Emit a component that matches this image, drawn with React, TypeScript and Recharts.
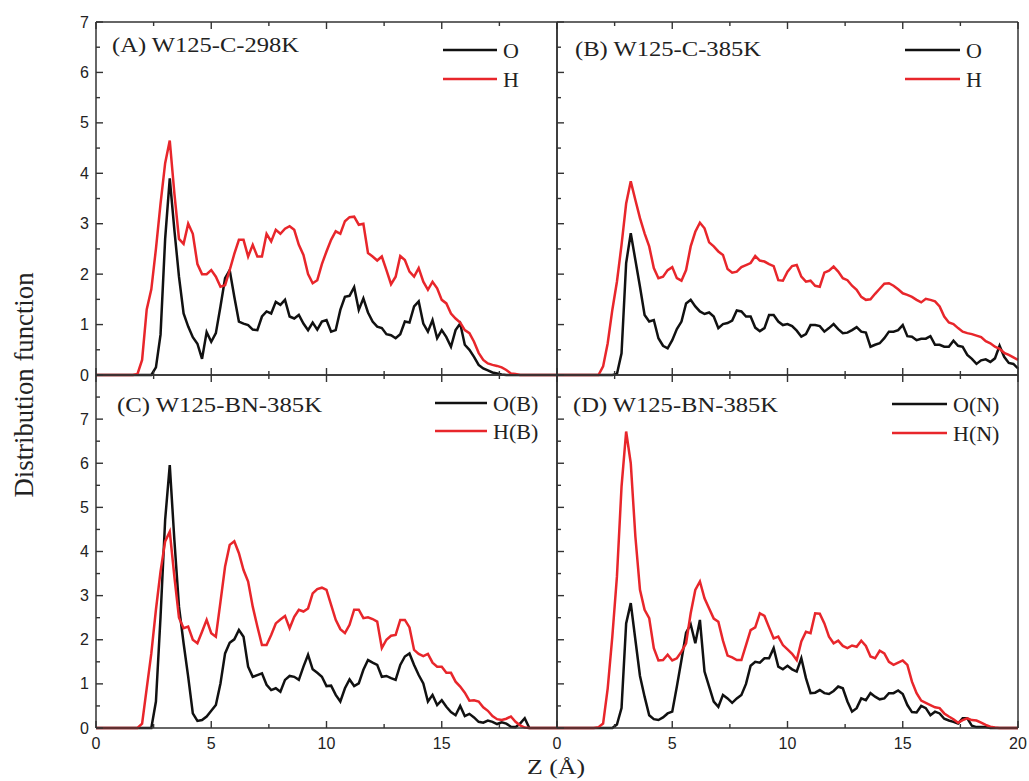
import { Line, LineChart, XAxis, YAxis } from 'recharts';

// z grid (Å)
const Z = [
  0, 0.2, 0.4, 0.6, 0.8, 1, 1.2, 1.4, 1.6, 1.8,
  2, 2.2, 2.4, 2.6, 2.8, 3, 3.2, 3.4, 3.6, 3.8,
  4, 4.2, 4.4, 4.6, 4.8, 5, 5.2, 5.4, 5.6, 5.8,
  6, 6.2, 6.4, 6.6, 6.8, 7, 7.2, 7.4, 7.6, 7.8,
  8, 8.2, 8.4, 8.6, 8.8, 9, 9.2, 9.4, 9.6, 9.8,
  10, 10.2, 10.4, 10.6, 10.8, 11, 11.2, 11.4, 11.6, 11.8,
  12, 12.2, 12.4, 12.6, 12.8, 13, 13.2, 13.4, 13.6, 13.8,
  14, 14.2, 14.4, 14.6, 14.8, 15, 15.2, 15.4, 15.6, 15.8,
  16, 16.2, 16.4, 16.6, 16.8, 17, 17.2, 17.4, 17.6, 17.8,
  18, 18.2, 18.4, 18.6, 18.8, 19, 19.2, 19.4, 19.6, 19.8,
  20,
];

// (A) W125-C-298K
const A_O = [
  0, 0, 0, 0, 0, 0, 0, 0, 0, 0,
  0, 0, 0, 0.15, 0.8, 2.7, 3.9, 2.88, 1.95, 1.22,
  0.96, 0.75, 0.62, 0.32, 0.85, 0.66, 0.83, 1.36, 1.92, 2.08,
  1.55, 1.06, 1.02, 0.99, 0.9, 0.89, 1.16, 1.26, 1.22, 1.45,
  1.39, 1.49, 1.16, 1.12, 1.19, 1.02, 0.89, 1.04, 0.9, 1.06,
  1.09, 0.86, 0.89, 1.29, 1.55, 1.57, 1.74, 1.29, 1.52, 1.24,
  1.06, 0.96, 0.93, 0.81, 0.79, 0.73, 0.81, 1.06, 1.04, 1.36,
  1.46, 1.02, 0.86, 1.09, 0.73, 0.89, 0.75, 0.56, 0.89, 1.02,
  0.6, 0.5, 0.36, 0.2, 0.13, 0.09, 0.05, 0.03, 0.01, 0,
  0, 0, 0, 0, 0, 0, 0, 0, 0, 0,
  0,
];
const A_H = [
  0, 0, 0, 0, 0, 0, 0, 0, 0, 0.02,
  0.3, 1.3, 1.7, 2.5, 3.4, 4.2, 4.65, 3.6, 2.7, 2.6,
  3.0, 2.8, 2.2, 2.0, 2.0, 2.08, 1.95, 1.75, 1.78, 2.08,
  2.4, 2.68, 2.68, 2.35, 2.58, 2.35, 2.35, 2.8, 2.65, 2.88,
  2.8, 2.9, 2.95, 2.88, 2.58, 2.38, 2.0, 1.82, 1.88, 2.2,
  2.45, 2.68, 2.85, 2.8, 3.05, 3.13, 3.14, 2.98, 3.0, 2.42,
  2.35, 2.27, 2.35, 2.08, 1.8, 1.95, 2.36, 2.28, 2.05, 1.95,
  2.12, 1.85, 1.69, 1.85, 1.72, 1.49, 1.42, 1.22, 1.12, 1.04,
  0.89, 0.83, 0.66, 0.44, 0.3, 0.23, 0.2, 0.18, 0.15, 0.1,
  0.03, 0.02, 0, 0, 0, 0, 0, 0, 0, 0,
  0,
];

// (B) W125-C-385K
const B_O = [
  0, 0, 0, 0, 0, 0, 0, 0, 0, 0,
  0, 0, 0, 0.02, 0.43, 2.22, 2.81, 2.28, 1.75, 1.19,
  1.06, 1.09, 0.73, 0.58, 0.53, 0.69, 0.91, 1.06, 1.42, 1.49,
  1.36, 1.26, 1.21, 1.24, 1.16, 0.93, 1.01, 1.03, 1.08, 1.28,
  1.26, 1.16, 1.16, 0.94, 0.87, 0.93, 1.19, 1.19, 1.06, 0.99,
  1.01, 0.97, 0.88, 0.76, 0.81, 0.99, 0.99, 0.97, 0.86, 0.93,
  1.01, 0.91, 0.83, 0.84, 0.89, 0.95, 0.86, 0.84, 0.56, 0.6,
  0.63, 0.73, 0.86, 0.86, 0.89, 0.99, 0.77, 0.76, 0.69, 0.72,
  0.72, 0.77, 0.6, 0.6, 0.56, 0.56, 0.68, 0.58, 0.56, 0.4,
  0.32, 0.22, 0.29, 0.31, 0.26, 0.33, 0.58, 0.36, 0.24, 0.22,
  0.13,
];
const B_H = [
  0, 0, 0, 0, 0, 0, 0, 0, 0, 0,
  0.17, 0.63, 1.29, 1.85, 2.58, 3.4, 3.84, 3.47, 3.11, 2.81,
  2.55, 2.12, 1.92, 1.95, 2.08, 2.14, 1.92, 1.87, 2.08, 2.55,
  2.84, 3.02, 2.91, 2.63, 2.55, 2.45, 2.38, 2.1, 2.03, 2.05,
  2.14, 2.18, 2.22, 2.36, 2.27, 2.25, 2.2, 2.16, 1.88, 1.87,
  2.05, 2.16, 2.18, 1.95, 1.85, 1.87, 1.77, 1.75, 2.03, 2.07,
  2.15, 2.05, 1.92, 1.88, 1.77, 1.69, 1.55, 1.49, 1.5, 1.61,
  1.71, 1.81, 1.82, 1.77, 1.7, 1.62, 1.59, 1.55, 1.49, 1.44,
  1.51, 1.49, 1.46, 1.36, 1.16, 1.04, 1.01, 0.93, 0.86, 0.83,
  0.81, 0.78, 0.75, 0.67, 0.63, 0.56, 0.52, 0.44, 0.4, 0.35,
  0.3,
];

// (C) W125-BN-385K, boron side
const C_O = [
  0, 0, 0, 0, 0, 0, 0, 0, 0, 0,
  0, 0, 0, 0.6, 2.52, 4.72, 5.96, 4.26, 2.75, 1.92,
  1.16, 0.33, 0.16, 0.18, 0.26, 0.39, 0.52, 1.01, 1.69, 1.93,
  2.01, 2.22, 2.07, 1.39, 1.16, 1.2, 1.24, 0.98, 0.86, 0.9,
  0.82, 1.09, 1.18, 1.16, 1.09, 1.39, 1.66, 1.33, 1.25, 1.16,
  0.95, 0.96, 0.75, 0.6, 0.9, 1.1, 0.95, 1.01, 1.32, 1.54,
  1.48, 1.43, 1.16, 1.18, 1.13, 1.09, 1.43, 1.62, 1.69, 1.43,
  1.2, 1.01, 0.6, 0.75, 0.52, 0.63, 0.48, 0.36, 0.29, 0.5,
  0.27, 0.32, 0.24, 0.14, 0.12, 0.17, 0.14, 0.09, 0.13, 0.1,
  0.03, 0.02, 0.1, 0.22, 0, 0, 0, 0, 0, 0,
  0,
];
const C_H = [
  0, 0, 0, 0, 0, 0, 0, 0, 0, 0,
  0.1, 0.9, 1.69, 2.68, 3.55, 4.23, 4.45, 3.43, 2.5, 2.26,
  2.3, 2.0, 1.92, 2.18, 2.45, 2.15, 2.07, 2.86, 3.66, 4.15,
  4.23, 3.96, 3.58, 3.32, 2.75, 2.3, 1.88, 1.88, 2.11, 2.37,
  2.46, 2.54, 2.26, 2.52, 2.68, 2.64, 2.71, 3.05, 3.15, 3.18,
  3.13, 2.79, 2.45, 2.24, 2.15, 2.34, 2.68, 2.68, 2.49, 2.51,
  2.47, 2.41, 1.81, 2.0, 2.09, 2.11, 2.45, 2.45, 2.28, 1.77,
  1.68, 1.63, 1.68, 1.48, 1.39, 1.39, 1.25, 1.25, 1.05, 0.94,
  0.8, 0.62, 0.63, 0.6, 0.47, 0.39, 0.27, 0.2, 0.18, 0.21,
  0.26, 0.14, 0.06, 0.01, 0, 0, 0, 0, 0, 0,
  0,
];

// (D) W125-BN-385K, nitrogen side
const D_O = [
  0, 0, 0, 0, 0, 0, 0, 0, 0, 0,
  0, 0, 0, 0.08, 0.45, 2.37, 2.83, 2.0, 1.18, 0.71,
  0.29, 0.2, 0.18, 0.24, 0.33, 0.37, 0.94, 1.54, 2.16, 2.35,
  1.92, 2.45, 1.28, 0.94, 0.6, 0.48, 0.75, 0.67, 0.57, 0.67,
  0.75, 1.0, 1.41, 1.5, 1.48, 1.58, 1.58, 1.81, 1.39, 1.33,
  1.41, 1.33, 1.28, 1.58, 1.13, 0.79, 0.8, 0.86, 0.79, 0.77,
  0.84, 0.94, 0.9, 0.6, 0.37, 0.45, 0.67, 0.63, 0.79, 0.71,
  0.65, 0.67, 0.79, 0.79, 0.85, 0.77, 0.52, 0.36, 0.35, 0.5,
  0.45, 0.29, 0.37, 0.33, 0.21, 0.17, 0.14, 0.1, 0.22, 0.22,
  0.05, 0.02, 0.02, 0.02, 0, 0, 0, 0, 0, 0,
  0,
];
const D_H = [
  0, 0, 0, 0, 0, 0, 0, 0, 0, 0.02,
  0.1, 0.9, 2.07, 3.43, 5.47, 6.72, 6.0, 4.34, 3.13, 2.68,
  2.49, 1.81, 1.53, 1.54, 1.66, 1.53, 1.58, 1.73, 1.92, 2.6,
  3.13, 3.32, 2.94, 2.71, 2.48, 2.41, 1.98, 1.64, 1.6, 1.54,
  1.54, 1.88, 2.22, 2.28, 2.6, 2.54, 2.28, 2.03, 2.07, 1.88,
  1.78, 1.68, 1.54, 1.96, 2.18, 2.15, 2.6, 2.59, 2.37, 2.07,
  1.92, 1.98, 1.86, 1.81, 1.87, 1.84, 1.98, 1.86, 1.62, 1.58,
  1.75, 1.69, 1.5, 1.43, 1.48, 1.53, 1.43, 1.05, 0.79, 0.62,
  0.57, 0.52, 0.47, 0.45, 0.33, 0.26, 0.2, 0.12, 0.18, 0.22,
  0.18, 0.17, 0.12, 0.07, 0.03, 0.01, 0, 0, 0, 0,
  0,
];

const X_TICKS = [0, 2.5, 5, 7.5, 10, 12.5, 15, 17.5, 20];
const Y_TICKS_TOP = [0, 0.5, 1, 1.5, 2, 2.5, 3, 3.5, 4, 4.5, 5, 5.5, 6, 6.5, 7];
const Y_TICKS_BOTTOM = [0, 0.5, 1, 1.5, 2, 2.5, 3, 3.5, 4, 4.5, 5, 5.5, 6, 6.5, 7, 7.5, 8];
const Y_LABELS = [0, 1, 2, 3, 4, 5, 6, 7];
const X_LABELS_LEFT = [0, 5, 10, 15];
const X_LABELS_RIGHT = [0, 5, 10, 15, 20];

const AXIS = '#333';
const BLACK = '#111';
const RED = '#e8262b';
const SANS = "'Liberation Sans', Arial, sans-serif";
const SERIF = "'Liberation Serif', 'Times New Roman', serif";

const PLOT_W = 461;
const PLOT_H = 353;
const M = 40;

// inward tick marks (major/minor), labels outside
const makeTick = (side: string, labels: number[], majorStep: number) => (props: any) => {
  const { x, y, payload } = props;
  const v = payload.value;
  const major = Math.abs(v / majorStep - Math.round(v / majorStep)) < 1e-6;
  const len = major ? 7 : 4;
  let line = null;
  if (side === 'left') line = <line x1={x} y1={y} x2={x + len} y2={y} />;
  if (side === 'right') line = <line x1={x} y1={y} x2={x - len} y2={y} />;
  if (side === 'bottom') line = <line x1={x} y1={y} x2={x} y2={y - len} />;
  if (side === 'top') line = <line x1={x} y1={y} x2={x} y2={y + len} />;
  const show = labels.includes(v);
  return (
    <g>
      <g stroke={AXIS} strokeWidth={1.4}>{line}</g>
      {show && side === 'left' && (
        <text x={x - 7} y={y} textAnchor="end" dominantBaseline="central" fontFamily={SANS} fontSize={16} fill="#222">
          {v}
        </text>
      )}
      {show && side === 'bottom' && (
        <text x={x} y={y + 15} textAnchor="middle" dominantBaseline="central" fontFamily={SANS} fontSize={16} fill="#222">
          {v}
        </text>
      )}
    </g>
  );
};

const panels = [
  { id: 'A', left: 96, top: 22, o: A_O, h: A_H, yMax: 7, yTicks: Y_TICKS_TOP, yLabels: Y_LABELS, xLabels: [] as number[] },
  { id: 'B', left: 557, top: 22, o: B_O, h: B_H, yMax: 7, yTicks: Y_TICKS_TOP, yLabels: [] as number[], xLabels: [] as number[] },
  { id: 'C', left: 96, top: 375, o: C_O, h: C_H, yMax: 8, yTicks: Y_TICKS_BOTTOM, yLabels: Y_LABELS, xLabels: X_LABELS_LEFT },
  { id: 'D', left: 557, top: 375, o: D_O, h: D_H, yMax: 8, yTicks: Y_TICKS_BOTTOM, yLabels: [] as number[], xLabels: X_LABELS_RIGHT },
];

const titles = [
  { text: '(A) W125-C-298K', x: 112, y: 52, len: 187 },
  { text: '(B) W125-C-385K', x: 575, y: 56, len: 186 },
  { text: '(C) W125-BN-385K', x: 117, y: 412, len: 205 },
  { text: '(D) W125-BN-385K', x: 573, y: 412, len: 205 },
];

const legends = [
  { x1: 443, x2: 497, y: 50, color: BLACK, label: 'O' },
  { x1: 443, x2: 497, y: 79, color: RED, label: 'H' },
  { x1: 905, x2: 960, y: 50, color: BLACK, label: 'O' },
  { x1: 905, x2: 960, y: 79, color: RED, label: 'H' },
  { x1: 435, x2: 487, y: 403, color: BLACK, label: 'O(B)' },
  { x1: 435, x2: 487, y: 431, color: RED, label: 'H(B)' },
  { x1: 892, x2: 947, y: 404, color: BLACK, label: 'O(N)' },
  { x1: 892, x2: 947, y: 433, color: RED, label: 'H(N)' },
];

const axisCommon = {
  type: 'number' as const,
  interval: 0,
  tickSize: 0,
  tickMargin: 0,
  tickLine: false,
  axisLine: { stroke: AXIS, strokeWidth: 1.5 },
};

function Panel({ p }: { p: (typeof panels)[number] }) {
  const data = Z.map((z, i) => ({ z, o: p.o[i], h: p.h[i] }));
  // axes take 1px each, so margins are M - 1 to keep the plot box at PLOT_W x PLOT_H
  return (
    <div style={{ position: 'absolute', left: p.left - M, top: p.top - M }}>
      <LineChart
        width={PLOT_W + 2 * M}
        height={PLOT_H + 2 * M}
        data={data}
        margin={{ top: M - 1, right: M - 1, bottom: M - 1, left: M - 1 }}
      >
        <XAxis {...axisCommon} dataKey="z" domain={[0, 20]} ticks={X_TICKS} height={1} tick={makeTick('bottom', p.xLabels, 5)} />
        <XAxis
          {...axisCommon}
          xAxisId="t"
          orientation="top"
          dataKey="z"
          domain={[0, 20]}
          ticks={X_TICKS}
          height={1}
          tick={makeTick('top', [], 5)}
        />
        <YAxis {...axisCommon} domain={[0, p.yMax]} ticks={p.yTicks} width={1} tick={makeTick('left', p.yLabels, 1)} />
        <YAxis
          {...axisCommon}
          yAxisId="r"
          orientation="right"
          domain={[0, p.yMax]}
          ticks={p.yTicks}
          width={1}
          tick={makeTick('right', [], 1)}
        />
        <Line type="linear" dataKey="o" stroke={BLACK} strokeWidth={2.5} dot={false} isAnimationActive={false} />
        <Line type="linear" dataKey="h" stroke={RED} strokeWidth={2.5} dot={false} isAnimationActive={false} />
      </LineChart>
    </div>
  );
}

export default function App() {
  return (
    <div style={{ position: 'absolute', left: 0, top: 0, width: 1029, height: 781, background: '#fff', overflow: 'hidden' }}>
      {panels.map((p) => (
        <Panel key={p.id} p={p} />
      ))}
      <svg width={1029} height={781} style={{ position: 'absolute', left: 0, top: 0, pointerEvents: 'none' }}>
        {titles.map((t) => (
          <text key={t.text} x={t.x} y={t.y} fontFamily={SERIF} fontSize={21} fill="#222" textLength={t.len} lengthAdjust="spacingAndGlyphs">
            {t.text}
          </text>
        ))}
        {legends.map((l, i) => (
          <g key={i}>
            <line x1={l.x1} y1={l.y} x2={l.x2} y2={l.y} stroke={l.color} strokeWidth={2.5} />
            <text x={l.x2 + 6} y={l.y + 8} fontFamily={SERIF} fontSize={22} fill="#222">
              {l.label}
            </text>
          </g>
        ))}
        <text
          x={33}
          y={385}
          transform="rotate(-90 33 385)"
          textAnchor="middle"
          fontFamily={SERIF}
          fontSize={27}
          fill="#222"
          textLength={225}
          lengthAdjust="spacingAndGlyphs"
        >
          Distribution function
        </text>
        <text x={556} y={774} textAnchor="middle" fontFamily={SERIF} fontSize={22} fill="#222" textLength={58} lengthAdjust="spacingAndGlyphs">
          Z (Å)
        </text>
      </svg>
    </div>
  );
}
